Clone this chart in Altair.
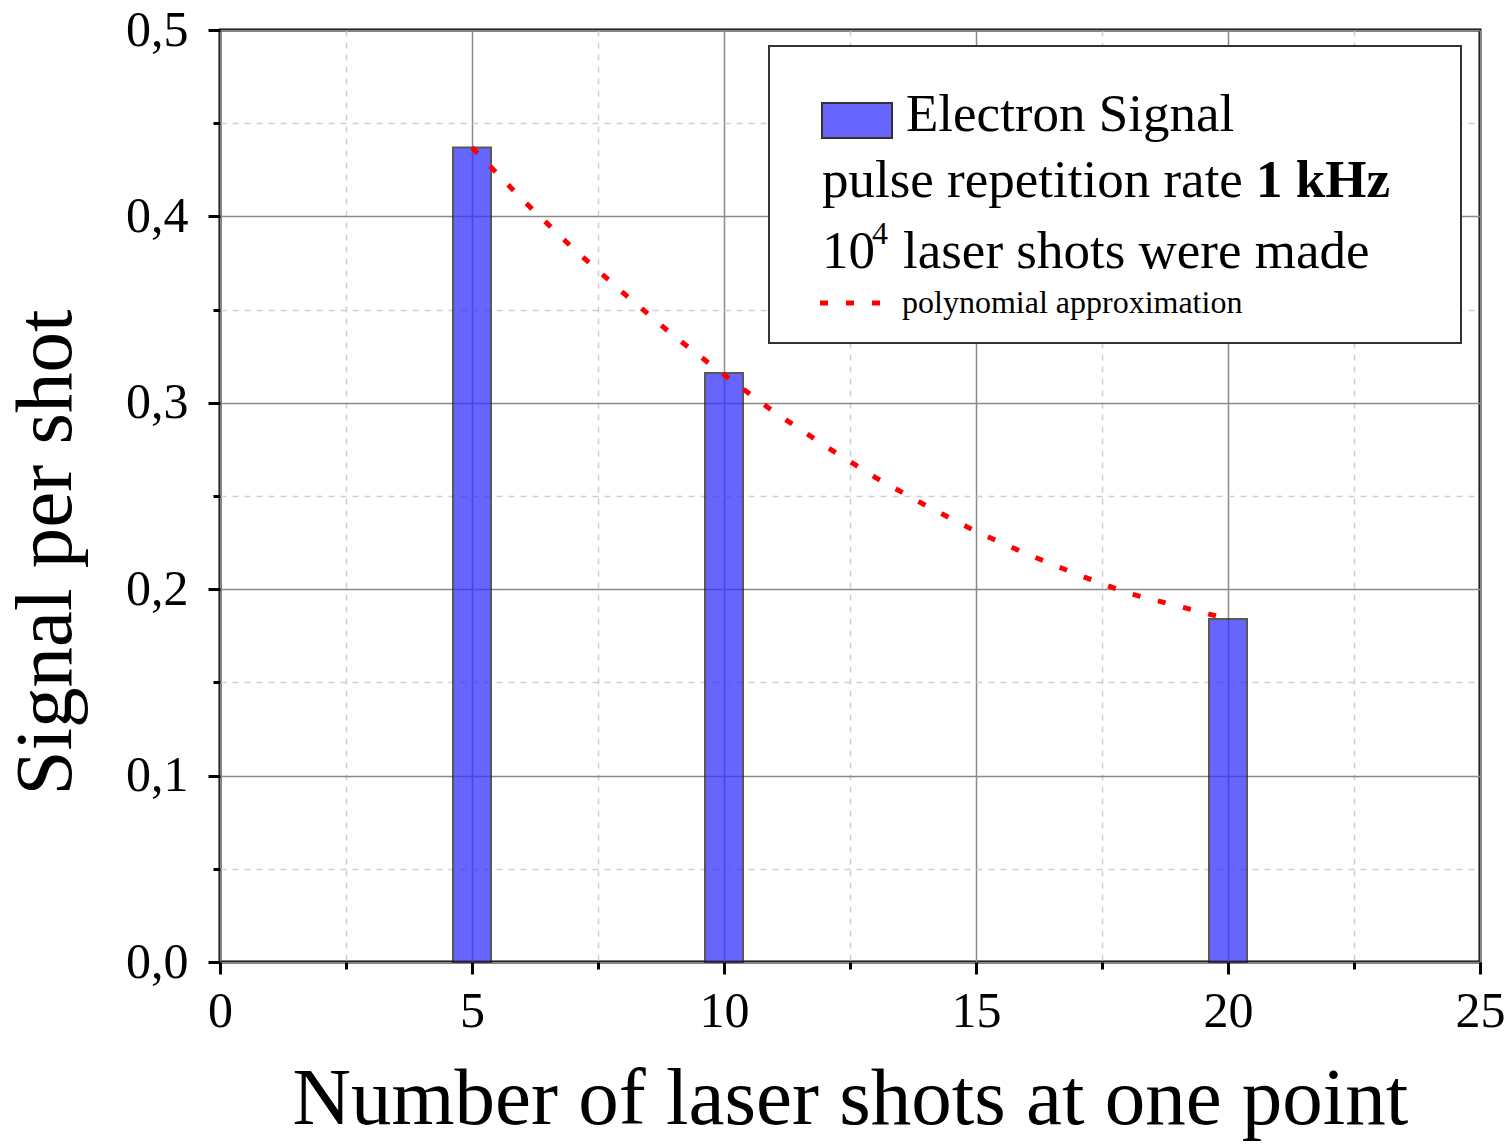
import altair as alt
import pandas as pd

# Measured electron signal per shot
shots = [5, 10, 20]
signal = [0.437, 0.316, 0.184]

# Polynomial approximation curve (sampled)
fit_x = [5, 6, 7, 8, 9, 10, 11, 12, 13, 14, 15, 16, 17, 18, 19, 20]
fit_y = [0.437, 0.409, 0.383, 0.359, 0.336, 0.315, 0.295, 0.277, 0.260,
         0.245, 0.231, 0.219, 0.208, 0.198, 0.191, 0.184]

x_major = [0, 5, 10, 15, 20, 25]
x_minor = [2.5, 7.5, 12.5, 17.5, 22.5]
y_major = [0.0, 0.1, 0.2, 0.3, 0.4, 0.5]
y_minor = [0.05, 0.15, 0.25, 0.35, 0.45]

FONT = "Liberation Serif"
W, H = 1260, 932

bars_df = pd.DataFrame({"shots": shots, "signal": signal})
fit_df = pd.DataFrame({"shots": fit_x, "signal": fit_y})

x_scale = alt.Scale(domain=[0, 25], nice=False, zero=False, padding=0)
y_scale = alt.Scale(domain=[0, 0.5], nice=False, padding=0)

minor_x_axis = alt.Axis(
    orient="bottom", values=x_minor, labels=False, title=None, domain=False,
    grid=True, gridColor="#cfcfcf", gridDash=[6, 6], gridWidth=1.5,
    ticks=True, tickSize=7, tickWidth=3, tickColor="black",
)
minor_y_axis = alt.Axis(
    orient="left", values=y_minor, labels=False, title=None, domain=False,
    grid=True, gridColor="#cfcfcf", gridDash=[6, 6], gridWidth=1.5,
    ticks=True, tickSize=7, tickWidth=3, tickColor="black",
)

major_x_axis = alt.Axis(
    orient="bottom", values=x_major, domain=False,
    grid=True, gridColor="#8a8a8a", gridWidth=1.5,
    ticks=True, tickSize=12, tickWidth=3, tickColor="black",
    labelFont=FONT, labelFontSize=50, labelColor="black", labelPadding=12,
    labelFlush=False,
    title="Number of laser shots at one point",
    titleFont=FONT, titleFontSize=81, titleFontWeight="normal", titleColor="black",
    titleBaseline="alphabetic", titleX=W / 2, titleY=161,
)
major_y_axis = alt.Axis(
    orient="left", values=y_major, domain=False,
    grid=True, gridColor="#8a8a8a", gridWidth=1.5,
    ticks=True, tickSize=12, tickWidth=3, tickColor="black",
    labelFont=FONT, labelFontSize=50, labelColor="black", labelPadding=20,
    labelExpr="replace(format(datum.value, '.1f'), '.', ',')",
    labelFlush=False,
    title="Signal per shot",
    titleFont=FONT, titleFontSize=81, titleFontWeight="normal", titleColor="black",
    titleBaseline="alphabetic", titleAngle=270, titleX=-150, titleY=522,
)

bars = alt.Chart(bars_df).mark_bar(
    size=38, color="#3333ff", opacity=0.75, stroke="#222222", strokeWidth=2,
).encode(
    x=alt.X("shots:Q", scale=x_scale, axis=minor_x_axis),
    y=alt.Y("signal:Q", scale=y_scale, axis=minor_y_axis),
)

curve = alt.Chart(fit_df).mark_line(
    color="#ff0000", strokeWidth=5, strokeDash=[8, 18],
).encode(
    x=alt.X("shots:Q", scale=x_scale, axis=major_x_axis),
    y=alt.Y("signal:Q", scale=y_scale, axis=major_y_axis),
)

one = alt.Data(values=[{"k": 1}])

legend_box = alt.Chart(one).mark_rect(
    fill="white", stroke="#333333", strokeWidth=2,
).encode(x=alt.value(549), x2=alt.value(1241), y=alt.value(16), y2=alt.value(313))

swatch = alt.Chart(one).mark_rect(
    fill="#6666ff", stroke="#333333", strokeWidth=2,
).encode(x=alt.value(602), x2=alt.value(672), y=alt.value(73), y2=alt.value(108))

legend_dash = alt.Chart(one).mark_rule(
    color="#ff0000", strokeWidth=5, strokeDash=[8, 18],
).encode(x=alt.value(600), x2=alt.value(668), y=alt.value(273))


def legend_text(txt, x, y, size, weight="normal"):
    return alt.Chart(one).mark_text(
        text=txt, font=FONT, fontSize=size, fontWeight=weight, color="black",
        align="left", baseline="alphabetic",
    ).encode(x=alt.value(x), y=alt.value(y))


texts = [
    legend_text("Electron Signal", 686, 101, 53),
    legend_text("pulse repetition rate", 602, 167, 53),
    legend_text("1 kHz", 1036, 167, 53, "bold"),
    legend_text("10", 602, 238, 53),
    legend_text("4", 652, 214, 32),
    legend_text("laser shots were made", 683, 238, 53),
    legend_text("polynomial approximation", 682, 283, 32),
]

chart = alt.layer(
    bars, curve, legend_box, swatch, legend_dash, *texts,
).resolve_axis(
    x="independent", y="independent"
).properties(
    width=W, height=H,
    autosize=alt.AutoSizeParams(type="none"),
    padding={"left": 220, "top": 30, "right": 32, "bottom": 182},
    background="white",
).configure_view(
    stroke="black", strokeWidth=3,
)

chart.save("out.html", embed_options={"renderer": "svg", "actions": False})
